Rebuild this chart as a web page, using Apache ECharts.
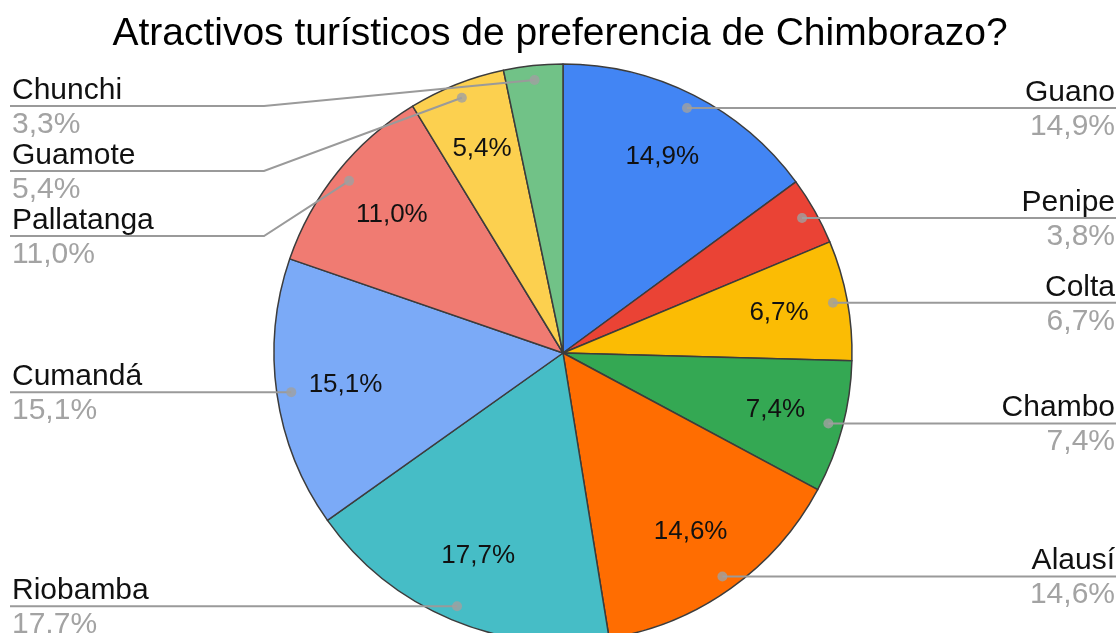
<!DOCTYPE html>
<html>
<head>
<meta charset="utf-8">
<script src="https://cdn.jsdelivr.net/npm/echarts@6/dist/echarts.min.js"></script>
<style>
  html, body { margin: 0; padding: 0; background: #fff; }
  #chart { width: 1120px; height: 633px; }
</style>
</head>
<body>
<div id="chart"></div>
<script>
// data (percent of answers)
const categories = ['Guano', 'Penipe', 'Colta', 'Chambo', 'Alausí', 'Riobamba', 'Cumandá', 'Pallatanga', 'Guamote', 'Chunchi'];
const shares = [14.9, 3.8, 6.7, 7.4, 14.6, 17.7, 15.1, 11.0, 5.4, 3.3];

const palette = ['#4285F4', '#EA4335', '#FBBC04', '#34A853', '#FF6D01', '#46BDC6', '#7BAAF7', '#F07B72', '#FCD04F', '#71C287'];

const W = 1120;
const cx = 563, cy = 353, R = 289;
const rDot = R * 0.95;
const GAP = 65, MIN_Y = 106;
const FONT = "'Liberation Sans', Arial, sans-serif";

const fmt = v => v.toFixed(1).replace('.', ',') + '%';

// slice middles, used for the dots and to stack the outside labels
const total = shares.reduce((a, b) => a + b, 0);
let acc = 0;
const mids = shares.map(v => { const m = acc + v / 2; acc += v; return m; });
const placed = mids.map((m, i) => {
  const t = m / total * 2 * Math.PI;
  return { i: i, right: Math.sin(t) >= 0, dx: cx + rDot * Math.sin(t), dy: cy - rDot * Math.cos(t) };
});
[true, false].forEach(side => {
  let prev = -Infinity;
  placed.filter(p => p.right === side)
    .sort((a, b) => a.dy - b.dy)
    .forEach(p => { p.ly = Math.max(p.dy, prev + GAP, MIN_Y); prev = p.ly; });
});

const pieData = categories.map((c, i) => ({ name: c, value: shares[i] }));

const chart = echarts.init(document.getElementById('chart'));
chart.setOption({
  animation: false,
  textStyle: { fontFamily: FONT },
  title: {
    text: 'Atractivos turísticos de preferencia de Chimborazo?',
    left: 'center',
    top: 10,
    textStyle: { fontFamily: FONT, fontSize: 39, fontWeight: 'normal', color: '#000' }
  },
  polar: { center: [cx, cy], radius: rDot },
  angleAxis: { type: 'value', min: 0, max: total, startAngle: 90, clockwise: true, show: false },
  radiusAxis: { type: 'value', min: 0, max: 1, show: false },
  series: [
    {
      type: 'pie',
      center: [cx, cy],
      radius: R,
      startAngle: 90,
      silent: true,
      z: 2,
      color: palette,
      itemStyle: { borderColor: '#3c3c3c', borderWidth: 1.5 },
      label: { show: false },
      labelLine: { show: false },
      data: pieData
    },
    {
      // inside percentages
      type: 'pie',
      center: [cx, cy],
      radius: [R * 0.5, R],
      startAngle: 90,
      silent: true,
      z: 3,
      itemStyle: { color: 'transparent' },
      label: {
        position: 'inside',
        fontFamily: FONT,
        fontSize: 26,
        color: '#111',
        formatter: p => p.value >= 5 ? fmt(p.value) : ''
      },
      labelLine: { show: false },
      data: pieData
    },
    {
      // outside name / percent labels with leader lines
      type: 'pie',
      center: [cx, cy],
      radius: rDot,
      startAngle: 90,
      silent: true,
      z: 4,
      itemStyle: { color: 'transparent' },
      label: {
        position: 'outside',
        alignTo: 'edge',
        edgeDistance: 10,
        formatter: p => '{n|' + p.name + '}\n{p|' + fmt(p.value) + '}',
        rich: {
          n: { fontFamily: FONT, fontSize: 30, lineHeight: 35, color: '#111' },
          p: { fontFamily: FONT, fontSize: 30, lineHeight: 33, color: '#a3a3a3' }
        }
      },
      labelLine: { show: true, lineStyle: { color: '#9a9a9a', width: 2 } },
      labelLayout: function (params) {
        const p = placed[params.dataIndex];
        const edge = p.right ? W - 4 : 10;
        let pts;
        if (Math.abs(p.ly - p.dy) < 1) {
          pts = [[p.dx, p.dy], [(p.dx + edge) / 2, p.ly], [edge, p.ly]];
        } else {
          const bx = p.right ? cx + R + 10 : cx - R - 10;
          pts = [[p.dx, p.dy], [bx, p.ly], [edge, p.ly]];
        }
        return {
          x: p.right ? W - 5 : 12,
          y: p.ly + 1,
          align: p.right ? 'right' : 'left',
          verticalAlign: 'middle',
          labelLinePoints: pts
        };
      },
      data: pieData
    },
    {
      // dots at the start of each leader line
      type: 'scatter',
      coordinateSystem: 'polar',
      silent: true,
      z: 5,
      symbol: 'circle',
      symbolSize: 10,
      itemStyle: { color: '#a0a0a0' },
      data: mids.map(m => [1, m])
    }
  ]
});
</script>
</body>
</html>
